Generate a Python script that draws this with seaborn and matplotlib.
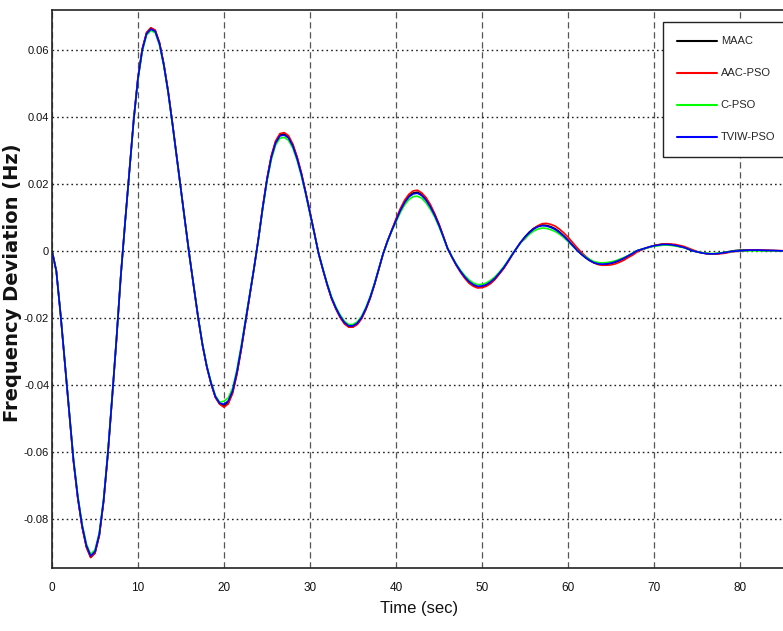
import numpy as np
import pandas as pd
import matplotlib
matplotlib.use("Agg")
import matplotlib.pyplot as plt
import seaborn as sns

# ---------------- data ----------------
time_sec = np.arange(0, 85.5, 0.5)

maac = [
    0.0000, -0.0060, -0.0191, -0.0336, -0.0482, -0.0628, -0.0738, -0.0823, -0.0884, -0.0915,
    -0.0902, -0.0849, -0.0748, -0.0605, -0.0437, -0.0263, -0.0075, 0.0085, 0.0239, 0.0392,
    0.0517, 0.0602, 0.0651, 0.0665, 0.0658, 0.0620, 0.0557, 0.0477, 0.0382, 0.0281,
    0.0181, 0.0080, -0.0018, -0.0110, -0.0201, -0.0281, -0.0346, -0.0397, -0.0437, -0.0457,
    -0.0463, -0.0452, -0.0422, -0.0366, -0.0293, -0.0212, -0.0131, -0.0051, 0.0035, 0.0129,
    0.0214, 0.0281, 0.0325, 0.0346, 0.0349, 0.0340, 0.0316, 0.0278, 0.0230, 0.0174,
    0.0114, 0.0054, -0.0008, -0.0056, -0.0101, -0.0141, -0.0172, -0.0197, -0.0216, -0.0226,
    -0.0226, -0.0218, -0.0201, -0.0174, -0.0140, -0.0100, -0.0055, -0.0009, 0.0028, 0.0061,
    0.0092, 0.0122, 0.0147, 0.0164, 0.0173, 0.0175, 0.0168, 0.0154, 0.0134, 0.0108,
    0.0078, 0.0043, 0.0007, -0.0018, -0.0042, -0.0062, -0.0080, -0.0094, -0.0103, -0.0108,
    -0.0107, -0.0103, -0.0095, -0.0084, -0.0068, -0.0052, -0.0033, -0.0012, 0.0007, 0.0026,
    0.0042, 0.0056, 0.0067, 0.0074, 0.0077, 0.0076, 0.0072, 0.0066, 0.0057, 0.0045,
    0.0032, 0.0018, 0.0003, -0.0009, -0.0020, -0.0029, -0.0036, -0.0040, -0.0041, -0.0040,
    -0.0038, -0.0034, -0.0029, -0.0023, -0.0015, -0.0008, 0.0000, 0.0004, 0.0008, 0.0012,
    0.0015, 0.0018, 0.0020, 0.0020, 0.0019, 0.0016, 0.0013, 0.0010, 0.0005, 0.0000,
    -0.0003, -0.0006, -0.0008, -0.0009, -0.0009, -0.0008, -0.0006, -0.0004, -0.0001, 0.0001,
    0.0002, 0.0002, 0.0002, 0.0002, 0.0002, 0.0001, 0.0001, 0.0001, 0.0000, 0.0000,
    0.0000,
]

aac_pso = [
    0.0000, -0.0060, -0.0191, -0.0337, -0.0483, -0.0629, -0.0739, -0.0825, -0.0885, -0.0916,
    -0.0903, -0.0851, -0.0749, -0.0607, -0.0438, -0.0264, -0.0075, 0.0086, 0.0239, 0.0392,
    0.0518, 0.0604, 0.0652, 0.0666, 0.0659, 0.0622, 0.0558, 0.0478, 0.0382, 0.0282,
    0.0181, 0.0080, -0.0018, -0.0111, -0.0201, -0.0282, -0.0347, -0.0397, -0.0438, -0.0458,
    -0.0467, -0.0457, -0.0426, -0.0369, -0.0296, -0.0214, -0.0133, -0.0051, 0.0036, 0.0131,
    0.0216, 0.0284, 0.0328, 0.0350, 0.0353, 0.0344, 0.0319, 0.0281, 0.0233, 0.0175,
    0.0115, 0.0054, -0.0008, -0.0056, -0.0102, -0.0143, -0.0173, -0.0199, -0.0218, -0.0228,
    -0.0228, -0.0220, -0.0203, -0.0175, -0.0142, -0.0101, -0.0055, -0.0009, 0.0029, 0.0061,
    0.0095, 0.0126, 0.0151, 0.0169, 0.0179, 0.0181, 0.0173, 0.0159, 0.0138, 0.0111,
    0.0080, 0.0044, 0.0007, -0.0019, -0.0043, -0.0064, -0.0082, -0.0097, -0.0106, -0.0111,
    -0.0110, -0.0106, -0.0098, -0.0086, -0.0070, -0.0054, -0.0034, -0.0013, 0.0007, 0.0026,
    0.0036, 0.0052, 0.0065, 0.0075, 0.0081, 0.0082, 0.0079, 0.0074, 0.0065, 0.0054,
    0.0041, 0.0026, 0.0011, -0.0003, -0.0015, -0.0026, -0.0035, -0.0041, -0.0043, -0.0043,
    -0.0042, -0.0039, -0.0034, -0.0028, -0.0020, -0.0013, -0.0004, 0.0002, 0.0007, 0.0011,
    0.0015, 0.0018, 0.0020, 0.0021, 0.0020, 0.0019, 0.0016, 0.0013, 0.0008, 0.0003,
    -0.0002, -0.0005, -0.0008, -0.0009, -0.0010, -0.0009, -0.0008, -0.0006, -0.0003, -0.0002,
    -0.0001, 0.0000, 0.0002, 0.0002, 0.0002, 0.0002, 0.0002, 0.0001, 0.0001, 0.0001,
    0.0000,
]

c_pso = [
    0.0000, -0.0060, -0.0189, -0.0333, -0.0477, -0.0621, -0.0731, -0.0815, -0.0875, -0.0906,
    -0.0893, -0.0841, -0.0741, -0.0599, -0.0432, -0.0260, -0.0075, 0.0084, 0.0237, 0.0388,
    0.0512, 0.0596, 0.0644, 0.0658, 0.0651, 0.0614, 0.0552, 0.0472, 0.0378, 0.0278,
    0.0179, 0.0080, -0.0018, -0.0109, -0.0199, -0.0278, -0.0343, -0.0393, -0.0432, -0.0452,
    -0.0449, -0.0439, -0.0410, -0.0355, -0.0284, -0.0206, -0.0127, -0.0049, 0.0034, 0.0125,
    0.0208, 0.0272, 0.0316, 0.0336, 0.0339, 0.0330, 0.0307, 0.0270, 0.0223, 0.0169,
    0.0111, 0.0052, -0.0008, -0.0054, -0.0098, -0.0137, -0.0167, -0.0191, -0.0210, -0.0220,
    -0.0220, -0.0212, -0.0195, -0.0169, -0.0136, -0.0097, -0.0053, -0.0009, 0.0027, 0.0059,
    0.0086, 0.0114, 0.0137, 0.0153, 0.0162, 0.0163, 0.0157, 0.0143, 0.0124, 0.0101,
    0.0072, 0.0040, 0.0007, -0.0017, -0.0039, -0.0058, -0.0074, -0.0087, -0.0096, -0.0101,
    -0.0100, -0.0096, -0.0088, -0.0078, -0.0064, -0.0048, -0.0030, -0.0011, 0.0007, 0.0024,
    0.0037, 0.0049, 0.0059, 0.0065, 0.0068, 0.0067, 0.0063, 0.0058, 0.0050, 0.0040,
    0.0028, 0.0015, 0.0003, -0.0008, -0.0017, -0.0025, -0.0032, -0.0035, -0.0036, -0.0035,
    -0.0033, -0.0030, -0.0025, -0.0020, -0.0014, -0.0007, 0.0000, 0.0004, 0.0007, 0.0011,
    0.0014, 0.0015, 0.0017, 0.0017, 0.0016, 0.0014, 0.0012, 0.0009, 0.0005, 0.0000,
    -0.0003, -0.0005, -0.0007, -0.0008, -0.0008, -0.0007, -0.0005, -0.0004, -0.0002, -0.0001,
    0.0000, 0.0000, 0.0000, 0.0000, 0.0000, 0.0000, 0.0000, 0.0000, 0.0000, 0.0000,
    0.0000,
]

tviw_pso = [
    0.0000, -0.0060, -0.0190, -0.0335, -0.0480, -0.0625, -0.0735, -0.0820, -0.0880, -0.0911,
    -0.0898, -0.0846, -0.0745, -0.0603, -0.0435, -0.0262, -0.0075, 0.0085, 0.0238, 0.0390,
    0.0515, 0.0600, 0.0648, 0.0662, 0.0655, 0.0618, 0.0555, 0.0475, 0.0380, 0.0280,
    0.0180, 0.0080, -0.0018, -0.0110, -0.0200, -0.0280, -0.0345, -0.0395, -0.0435, -0.0455,
    -0.0458, -0.0448, -0.0418, -0.0362, -0.0290, -0.0210, -0.0130, -0.0050, 0.0035, 0.0128,
    0.0212, 0.0278, 0.0322, 0.0343, 0.0346, 0.0337, 0.0313, 0.0275, 0.0228, 0.0172,
    0.0113, 0.0053, -0.0008, -0.0055, -0.0100, -0.0140, -0.0170, -0.0195, -0.0214, -0.0224,
    -0.0224, -0.0216, -0.0199, -0.0172, -0.0139, -0.0099, -0.0054, -0.0009, 0.0028, 0.0060,
    0.0090, 0.0120, 0.0144, 0.0161, 0.0170, 0.0172, 0.0165, 0.0151, 0.0131, 0.0106,
    0.0076, 0.0042, 0.0007, -0.0018, -0.0041, -0.0061, -0.0078, -0.0092, -0.0101, -0.0106,
    -0.0105, -0.0101, -0.0093, -0.0082, -0.0067, -0.0051, -0.0032, -0.0012, 0.0007, 0.0025,
    0.0041, 0.0054, 0.0065, 0.0072, 0.0075, 0.0074, 0.0070, 0.0064, 0.0055, 0.0044,
    0.0031, 0.0017, 0.0003, -0.0009, -0.0019, -0.0028, -0.0035, -0.0039, -0.0040, -0.0039,
    -0.0037, -0.0033, -0.0028, -0.0022, -0.0015, -0.0008, 0.0000, 0.0004, 0.0008, 0.0012,
    0.0015, 0.0017, 0.0019, 0.0019, 0.0018, 0.0016, 0.0013, 0.0010, 0.0005, 0.0000,
    -0.0003, -0.0006, -0.0008, -0.0009, -0.0009, -0.0008, -0.0006, -0.0004, -0.0002, -0.0001,
    0.0000, 0.0001, 0.0002, 0.0002, 0.0002, 0.0002, 0.0001, 0.0001, 0.0001, 0.0000,
    0.0000,
]

methods = ["MAAC", "AAC-PSO", "C-PSO", "TVIW-PSO"]
series = [maac, aac_pso, c_pso, tviw_pso]
colors = ["#000000", "#ff0000", "#00ff00", "#0000ff"]

x_ticks = [0, 10, 20, 30, 40, 50, 60, 70, 80]
x_tick_labels = ["0", "10", "20", "30", "40", "50", "60", "70", "80"]
y_ticks = [0.06, 0.04, 0.02, 0.0, -0.02, -0.04, -0.06, -0.08]
y_tick_labels = ["0.06", "0.04", "0.02", "0", "-0.02", "-0.04", "-0.06", "-0.08"]

x_label = "Time (sec)"
y_label = "Frequency Deviation (Hz)"

# ---------------- long table ----------------
frames = []
for name, vals in zip(methods, series):
    frames.append(pd.DataFrame({"time": time_sec, "value": np.asarray(vals, dtype=float),
                                "method": name}))
df = pd.concat(frames, ignore_index=True)

# ---------------- style ----------------
sns.set_theme(style="white")
plt.rcParams["font.family"] = ["Liberation Sans", "DejaVu Sans"]
plt.rcParams["axes.unicode_minus"] = False

W, H = 783, 631
fig = plt.figure(figsize=(W / 100, H / 100), dpi=100)
ax_left, ax_right, ax_top, ax_bottom = 52, 783, 10, 568
ax = fig.add_axes([ax_left / W, 1 - ax_bottom / H, (ax_right - ax_left) / W,
                   (ax_bottom - ax_top) / H])

sns.lineplot(data=df, x="time", y="value", hue="method", hue_order=methods,
             palette=dict(zip(methods, colors)), estimator=None, sort=False,
             linewidth=1.2, ax=ax, legend=True)

ax.set_xlim(0, 85.0)
ax.set_ylim(-0.0947, 0.0719)

ax.set_xticks(x_ticks)
ax.set_xticklabels(x_tick_labels)
ax.set_yticks(y_ticks)
ax.set_yticklabels(y_tick_labels)

ax.tick_params(axis="both", direction="in", length=7, width=1, color="#333333",
               labelsize=8.5, labelcolor="#111111")
ax.tick_params(axis="x", pad=10)
ax.tick_params(axis="y", pad=2.0, labelsize=8)

ax.yaxis.grid(True, linestyle=(0, (1.2, 2.2)), color="#222222", linewidth=1.0)
ax.xaxis.grid(True, linestyle=(0, (5, 3)), color="#555555", linewidth=0.9)
ax.set_axisbelow(True)

for side in ["left", "bottom", "top"]:
    ax.spines[side].set_color("#222222")
    ax.spines[side].set_linewidth(1.2)
ax.spines["right"].set_visible(False)

ax.set_xlabel(x_label, fontsize=12, color="#111111")
ax.xaxis.set_label_coords((419 - ax_left) / (ax_right - ax_left),
                          -(601 - ax_bottom) / (ax_bottom - ax_top))
ax.set_ylabel(y_label, fontsize=14, fontweight="bold", color="#111111",
              family=["DejaVu Sans"])
ax.yaxis.set_label_coords(-(52 - 22) / (ax_right - ax_left),
                          (ax_bottom - 283) / (ax_bottom - ax_top))

# legend
handles, labels = ax.get_legend_handles_labels()
leg_x0, leg_top, leg_w, leg_h = 663, 22, 140, 134
leg = ax.legend(handles, labels, loc="upper left",
                bbox_to_anchor=(leg_x0 / W, 1 - (leg_top + leg_h) / H, leg_w / W, leg_h / H),
                bbox_transform=fig.transFigure, mode="expand",
                fontsize=8, frameon=True, fancybox=False, framealpha=1,
                edgecolor="#222222", handlelength=3.6, handletextpad=0.3,
                labelspacing=1.98, borderpad=1.3, borderaxespad=0)
leg.get_frame().set_linewidth(1.0)
for line in leg.get_lines():
    line.set_linewidth(1.5)

fig.savefig("out.png", dpi=100)
